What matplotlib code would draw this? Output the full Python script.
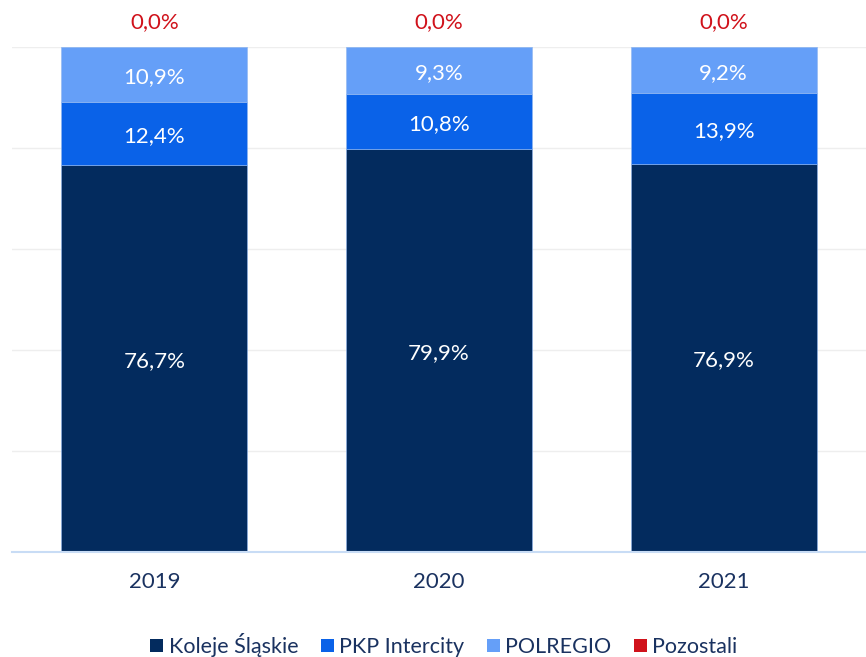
import matplotlib.pyplot as plt
import numpy as np

plt.rcParams['font.family'] = ['Lato', 'DejaVu Sans']

years = ['2019', '2020', '2021']
koleje = [76.7, 79.9, 76.9]
pkp = [12.4, 10.8, 13.9]
polregio = [10.9, 9.3, 9.2]
pozostali = [0.0, 0.0, 0.0]

series = [
    ('Koleje Śląskie', koleje, '#032b5e'),
    ('PKP Intercity', pkp, '#0a62e8'),
    ('POLREGIO', polregio, '#659ff8'),
    ('Pozostali', pozostali, '#d0121b'),
]

fig = plt.figure(figsize=(8.66, 6.57), dpi=100)
ax = fig.add_axes([12 / 866, 105 / 657, 854 / 866, 505 / 657])

x = np.arange(len(years))
bottom = np.zeros(len(years))
for name, vals, col in series:
    vals = np.array(vals)
    ax.bar(x, vals, 0.653, bottom=bottom, color=col, label=name,
           edgecolor='#8fb6f0', linewidth=0.4, zorder=3)
    if name != 'Pozostali':
        for xi, b, v in zip(x, bottom, vals):
            ax.text(xi, b + v / 2 - 0.5, f'{v:.1f}%'.replace('.', ','), ha='center',
                    va='center', color='white', fontsize=16, zorder=4)
    bottom += vals

for xi, v, tot in zip(x, pozostali, bottom):
    ax.text(xi, tot + 5.0, f'{v:.1f}%'.replace('.', ','), ha='center',
            va='center', color='#d0121b', fontsize=16)

ax.set_xlim(-0.5, 2.5)
ax.set_ylim(0, 100)
ax.set_yticks(np.arange(0, 101, 20))
ax.yaxis.grid(True, color='#eeeeee', linewidth=1, zorder=0)
ax.tick_params(axis='y', left=False, labelleft=False)
ax.tick_params(axis='x', bottom=False, labelsize=16, colors='#1a3260', pad=11)
ax.set_xticks(x)
ax.set_xticklabels(years)
for s in ['top', 'right', 'left']:
    ax.spines[s].set_visible(False)
ax.spines['bottom'].set_color('#c8dcf5')
ax.spines['bottom'].set_linewidth(1.5)
ax.spines['bottom'].set_zorder(5)

leg = fig.legend(loc='center', bbox_to_anchor=(444 / 866, 12 / 657), ncol=4,
                 frameon=False, fontsize=15.5, handlelength=0.6, handleheight=0.6,
                 handletextpad=0.25, columnspacing=1.05)
for t in leg.get_texts():
    t.set_color('#1a3260')
for h in leg.legend_handles:
    h.set_edgecolor('none')

fig.savefig('out.png', dpi=100)
